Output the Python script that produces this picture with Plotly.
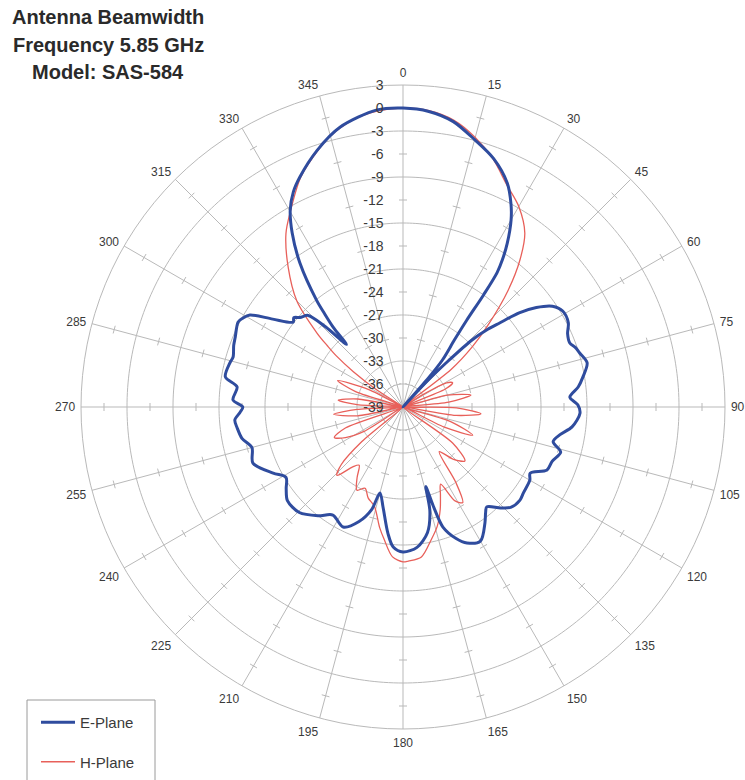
import math
import plotly.graph_objects as go

# ---- measured pattern data (relative gain, dB) ----
e_theta = [0, 5, 10, 15, 20, 25, 28, 30, 32.5, 34, 35, 35.7, 36.3, 37.5, 40, 41.2, 42,
           43, 44.5, 45.8, 47.5, 49, 51, 53.3, 56, 59, 63, 66, 69, 71, 73, 76.5, 80.5,
           83.5, 86.6, 89.3, 92, 96.7, 100, 103, 106, 110, 113.6, 117.5, 120, 125.6,
           128.5, 133, 136, 140, 142, 144.7, 150, 154.8, 158, 161.6, 163, 164, 165.5,
           169, 174.3, 180, 184, 186.8, 191.3, 195, 197, 201, 206.5, 213, 218, 224.5,
           231, 235, 239, 243, 249.5, 255, 259, 262.8, 265.6, 268, 270, 272.4, 276.9,
           279.6, 284.3, 286.4, 290, 292.6, 297.3, 299, 301, 304, 307.7, 309.3, 311,
           314, 316, 317.9, 318.8, 320, 321, 324.4, 327.5, 330.2, 333, 335.9, 341.5,
           347.3, 355, 360]
e_db = [0.0, -0.3, -1.2, -2.9, -4.5, -6.8, -9.0, -10.8, -13.7, -15.8, -17.6, -21.0,
        -25.0, -28.0, -31.0, -34.0, -39.0, -34.5, -30.5, -26.5, -24.0, -22.3, -19.5,
        -17.3, -15.5, -14.7, -14.8, -15.5, -15.7, -15.2, -14.9, -14.3, -15.2, -16.0,
        -17.2, -16.2, -15.9, -16.8, -18.2, -18.9, -17.6, -18.3, -18.5, -20.3, -19.9,
        -19.7, -19.5, -19.8, -20.7, -22.0, -21.5, -20.5, -18.8, -19.4, -20.5, -22.5,
        -25.5, -28.2, -25.0, -22.3, -20.6, -20.1, -20.7, -22.4, -25.7, -27.4, -25.0,
        -23.0, -21.5, -22.2, -21.0, -19.7, -19.6, -20.4, -21.2, -20.0, -18.1, -18.6,
        -17.6, -17.2, -17.0, -17.7, -18.1, -16.8, -17.2, -15.5, -15.7, -15.9, -15.5,
        -15.3, -14.8, -15.1, -15.7, -18.5, -20.9, -20.6, -21.2, -21.8, -24.5, -28.0,
        -25.2, -23.0, -21.1, -15.9, -12.1, -9.4, -7.5, -6.1, -3.7, -1.6, -0.1, 0.0]

h_theta = [0, 5, 10, 15, 20, 25, 30, 35, 38.5, 42, 46, 49, 52, 55, 58, 61, 64, 67,
           71, 75, 80, 84, 87, 91, 95, 99, 103, 107, 112, 116, 121, 126, 131, 136,
           141, 145, 148, 151, 154, 157, 160, 164, 168, 173, 178, 180, 184, 188, 191,
           196, 201, 205, 209, 213, 217, 220, 224, 227, 230, 234, 238, 242, 246, 250,
           255, 259, 264, 267, 270, 273, 276, 280, 284, 288, 292, 297, 300, 303,
           305.5, 307.5, 309, 310.7, 315, 320.6, 326, 330, 336, 341.5, 345, 350, 355,
           360]
h_db = [0.0, -0.2, -1.0, -2.6, -4.6, -7.0, -8.8, -11.3, -14.5, -18.5, -23.5, -27.0,
        -31.0, -39.0, -36.0, -32.5, -31.8, -33.0, -39.0, -33.0, -30.0, -33.0, -39.0,
        -32.0, -28.8, -32.0, -39.0, -32.5, -29.2, -33.0, -39.0, -31.0, -28.3, -29.5,
        -31.5, -27.0, -24.3, -25.0, -27.8, -26.5, -24.8, -22.8, -21.3, -19.3, -18.9,
        -18.8, -19.4, -21.5, -23.0, -25.5, -26.3, -27.3, -26.6, -28.0, -29.5, -28.8,
        -26.6, -28.0, -32.0, -39.0, -33.0, -30.5, -29.2, -31.0, -39.0, -33.0, -29.9,
        -33.0, -39.0, -33.0, -30.5, -33.0, -39.0, -32.5, -29.8, -34.0, -39.0, -35.0,
        -31.0, -28.0, -26.3, -24.2, -19.4, -15.4, -11.7, -9.6, -6.2, -3.8, -2.4, -1.0,
        -0.25, 0.0]

r_labels = [3, 0, -3, -6, -9, -12, -15, -18, -21, -24, -27, -30, -33, -36, -39]
ring_values = [-3, -9, -15, -21, -27, -33]
tick_values = [0, -6, -12, -18, -24, -30, -36]
angle_labels = list(range(0, 360, 15))
title_lines = ["Antenna Beamwidth", "Frequency 5.85 GHz", "Model: SAS-584"]

# ---- geometry ----
W, H = 745, 780
cx, cy, R = 403, 407, 322
dom_x = [(cx - R) / W, (cx + R) / W]
dom_y = [1 - (cy + R) / H, 1 - (cy - R) / H]
r_min, r_max = -39, 3
px_per_db = R / (r_max - r_min)

GRID = "#b9b9b9"
TEXT = "#3a3a3a"

fig = go.Figure()

# concentric rings every 6 dB
for v in ring_values:
    th = list(range(0, 361))
    fig.add_trace(go.Scatterpolar(r=[v] * len(th), theta=th, mode="lines",
                                  line=dict(color=GRID, width=1),
                                  showlegend=False, hoverinfo="skip"))

# small cross ticks on every spoke between the rings
tk_r, tk_t = [], []
half = 4.0
for v in tick_values:
    rp = (v - r_min) * px_per_db
    dth = math.degrees(math.atan(half / rp))
    rr = r_min + math.hypot(rp, half) / px_per_db
    for a in angle_labels:
        tk_r += [rr, rr, None]
        tk_t += [a - dth, a + dth, None]
fig.add_trace(go.Scatterpolar(r=tk_r, theta=tk_t, mode="lines",
                              line=dict(color=GRID, width=1),
                              showlegend=False, hoverinfo="skip", connectgaps=False))

fig.add_trace(go.Scatterpolar(r=h_db, theta=h_theta, mode="lines", name="H-Plane",
                              line=dict(color="#e8605a", width=1.3, shape="spline",
                                        smoothing=0.85),
                              legendgroup="h", legendrank=2))
fig.add_trace(go.Scatterpolar(r=e_db, theta=e_theta, mode="lines", name="E-Plane",
                              line=dict(color="#2f4c9e", width=3, shape="spline",
                                        smoothing=0.85),
                              legendgroup="e", legendrank=1))

annotations = []
for i, line in enumerate(title_lines):
    annotations.append(dict(
        text="<b>%s</b>" % line, x=108 / W, y=1 - (17 + 27.5 * i) / H,
        xref="paper", yref="paper", xanchor="center", yanchor="middle",
        showarrow=False, font=dict(size=20, color="#2a2a2a"),
    ))

fig.update_layout(
    width=W, height=H,
    margin=dict(l=0, r=0, t=0, b=0),
    paper_bgcolor="white",
    font=dict(family="Liberation Sans, Arial, sans-serif", color=TEXT),
    polar=dict(
        domain=dict(x=dom_x, y=dom_y),
        bgcolor="white",
        radialaxis=dict(
            range=[r_min, r_max], angle=90, side="counterclockwise",
            tickmode="array", tickvals=r_labels, ticktext=[str(v) for v in r_labels],
            tickfont=dict(size=14, color=TEXT),
            ticks="outside", ticklen=14, tickcolor="rgba(0,0,0,0)",
            showgrid=False, showline=False, tickangle=90,
        ),
        angularaxis=dict(
            rotation=90, direction="clockwise",
            tickmode="array", tickvals=angle_labels,
            ticktext=[str(a) for a in angle_labels],
            tickfont=dict(size=12, color=TEXT),
            ticks="outside", ticklen=3, tickcolor="rgba(0,0,0,0)",
            showgrid=True, gridcolor=GRID, gridwidth=1,
            showline=True, linecolor=GRID, linewidth=1,
        ),
    ),
    showlegend=True,
    legend=dict(
        x=36 / W, y=1 - 706 / H, xanchor="left", yanchor="top",
        borderwidth=0, bgcolor="rgba(0,0,0,0)",
        font=dict(size=15, color=TEXT), itemwidth=34,
        traceorder="grouped", tracegroupgap=17,
    ),
    shapes=[dict(type="rect", xref="paper", yref="paper",
                 x0=27 / W, x1=155 / W, y0=-0.02, y1=1 - 700 / H,
                 line=dict(color="#9a9a9a", width=1), fillcolor="rgba(0,0,0,0)",
                 layer="below")],
    annotations=annotations,
)

fig.write_html("out.html")
